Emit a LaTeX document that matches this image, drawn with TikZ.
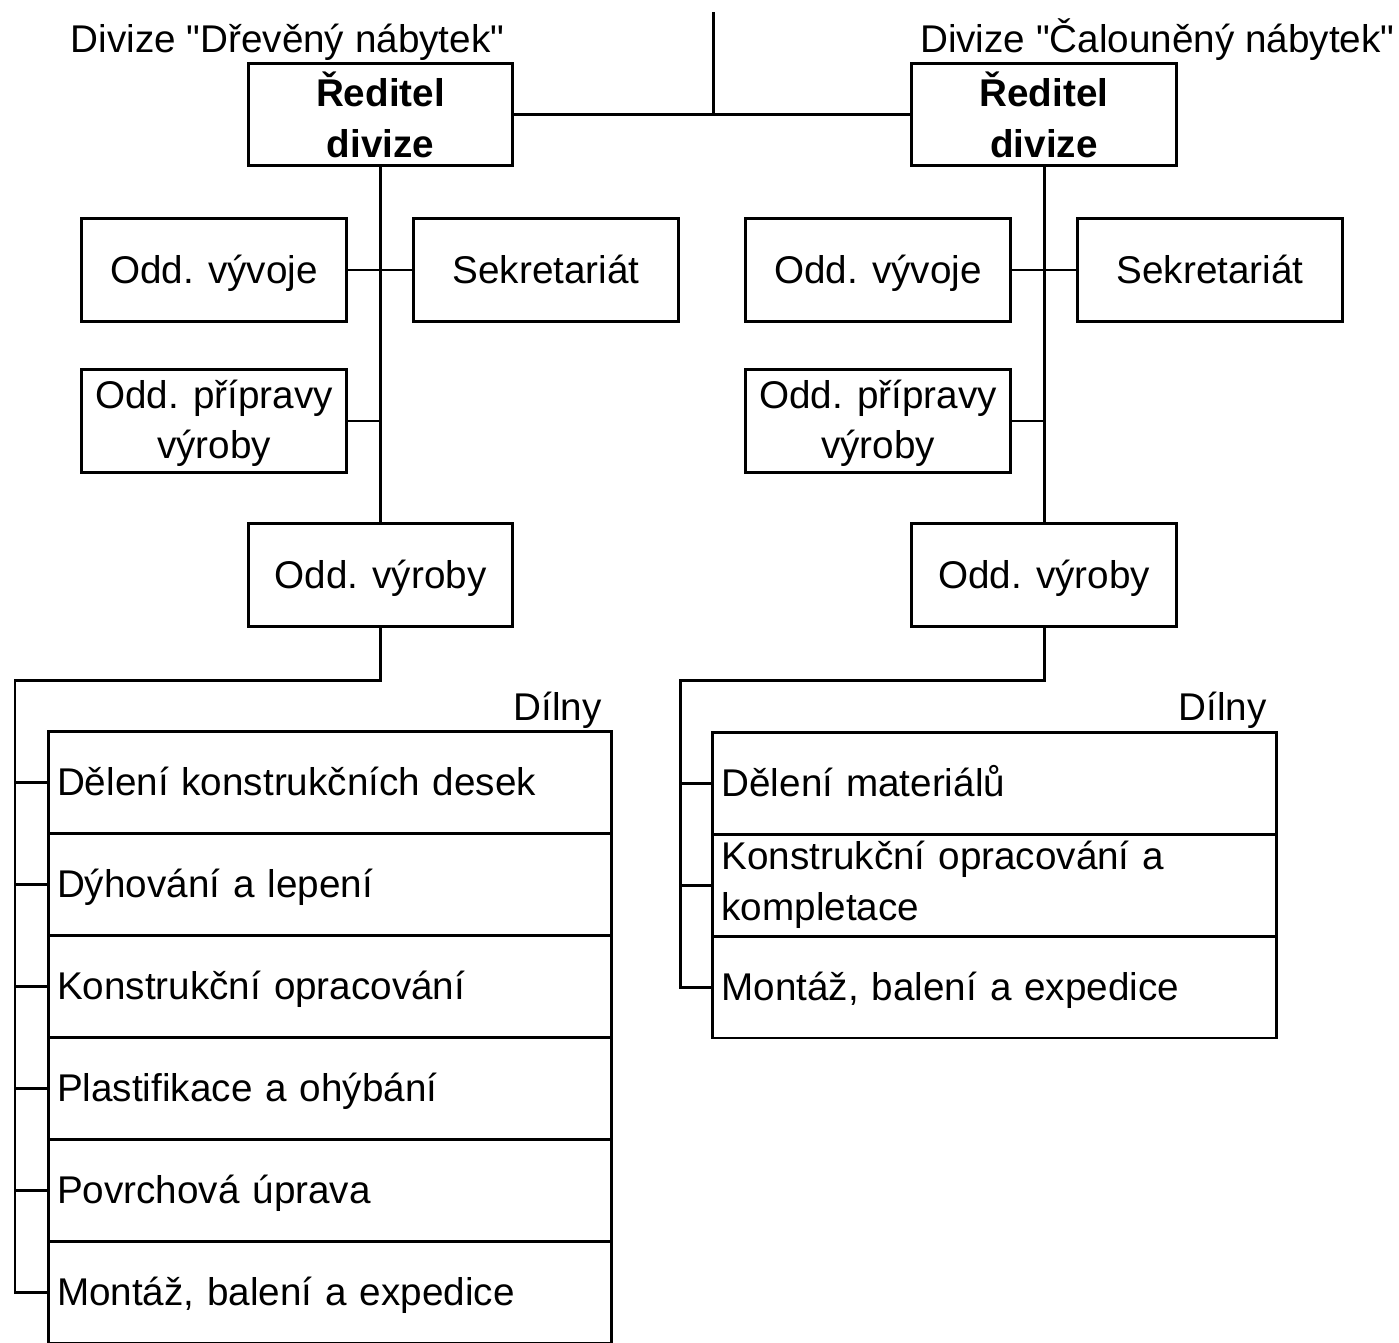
\documentclass[tikz,border=0pt]{standalone}
\usepackage{fontspec}
\setmainfont{Liberation Sans}
\usetikzlibrary{positioning}
\begin{document}
\begin{tikzpicture}
  [x=0.02cm,y=-0.02cm,line width=1.7pt,
   font=\fontsize{22}{29}\selectfont,
   unit/.style={rectangle,draw=black,line width=1.7pt,align=center,
                outer sep=0,inner sep=0,minimum width=5.3cm,minimum height=2.06cm},
   head/.style={unit,font=\fontsize{22}{29}\selectfont\bfseries},
   shop/.style={rectangle,draw=black,line width=1.7pt,align=left,
                outer sep=0,inner xsep=0.18cm,inner ysep=0,
                text width=10.92cm,minimum height=2.04cm},
   solo/.style={text height=20pt,text depth=4.25pt},
   caption/.style={inner sep=0}]
  \useasboundingbox (0,0) rectangle (1399,1342);
  % divize Drevěný nábytek
  \node[caption,anchor=base] (titleL) at (287.5,52) {Divize \textquotedbl Dřevěný nábytek\textquotedbl};
  \node[head] (dirL) at (380.5,114.5) {Ředitel\\divize};
  \node[unit,solo] (vyvL) at (214,270) {Odd. vývoje};
  \node[unit,solo] (sekL) at (546,270) {Sekretariát};
  \node[unit,text depth=2pt] (pripL) at (214,421) {Odd. přípravy\\výroby};
  \node[unit,solo] (vyrL) at (380.5,575) {Odd. výroby};
  \node[caption,anchor=base east] (shopsL) at (603,720) {Dílny};
  \node[shop,solo] (d1L) at (330,782) {Dělení konstrukčních desek};
  \node[shop,solo] (d2L) at (330,884) {Dýhování a lepení};
  \node[shop,solo] (d3L) at (330,986) {Konstrukční opracování};
  \node[shop,solo] (d4L) at (330,1088) {Plastifikace a ohýbání};
  \node[shop,solo] (d5L) at (330,1190) {Povrchová úprava};
  \node[shop,solo] (d6L) at (330,1292) {Montáž, balení a expedice};
  % divize Čalouněný nábytek
  \node[caption,anchor=base east] (titleR) at (1396,52) {Divize \textquotedbl Čalouněný nábytek\textquotedbl};
  \node[head] (dirR) at (1044,114.5) {Ředitel\\divize};
  \node[unit,solo] (vyvR) at (878,270) {Odd. vývoje};
  \node[unit,solo] (sekR) at (1210,270) {Sekretariát};
  \node[unit,text depth=2pt] (pripR) at (878,421) {Odd. přípravy\\výroby};
  \node[unit,solo] (vyrR) at (1044,575) {Odd. výroby};
  \node[caption,anchor=base east] (shopsR) at (1268,720) {Dílny};
  \node[shop,solo] (d1R) at (994.5,783) {Dělení materiálů};
  \node[shop] (d2R) at (994.5,885) {Konstrukční opracování a\\kompletace};
  \node[shop,solo] (d3R) at (994.5,987) {Montáž, balení a expedice};
  % connectors
  \coordinate (top) at (713,12);
  \coordinate (busL) at (15,680);
  \coordinate (busR) at (680,680);
  \draw (top) -- (top |- dirL.east);
  \draw (dirL.east) -- (dirR.west);
  \draw (dirL.south) -- (vyrL.north);
  \draw (vyvL.east) -- (sekL.west);
  \draw (pripL.east) -- (pripL.east -| dirL.south);
  \draw (vyrL.south) |- (busL) |- (d6L.west);
  \draw (d1L.west) -- (d1L.west -| busL);
  \draw (d2L.west) -- (d2L.west -| busL);
  \draw (d3L.west) -- (d3L.west -| busL);
  \draw (d4L.west) -- (d4L.west -| busL);
  \draw (d5L.west) -- (d5L.west -| busL);
  \draw (dirR.south) -- (vyrR.north);
  \draw (vyvR.east) -- (sekR.west);
  \draw (pripR.east) -- (pripR.east -| dirR.south);
  \draw (vyrR.south) |- (busR) |- (d3R.west);
  \draw (d1R.west) -- (d1R.west -| busR);
  \draw (d2R.west) -- (d2R.west -| busR);
\end{tikzpicture}
\end{document}
